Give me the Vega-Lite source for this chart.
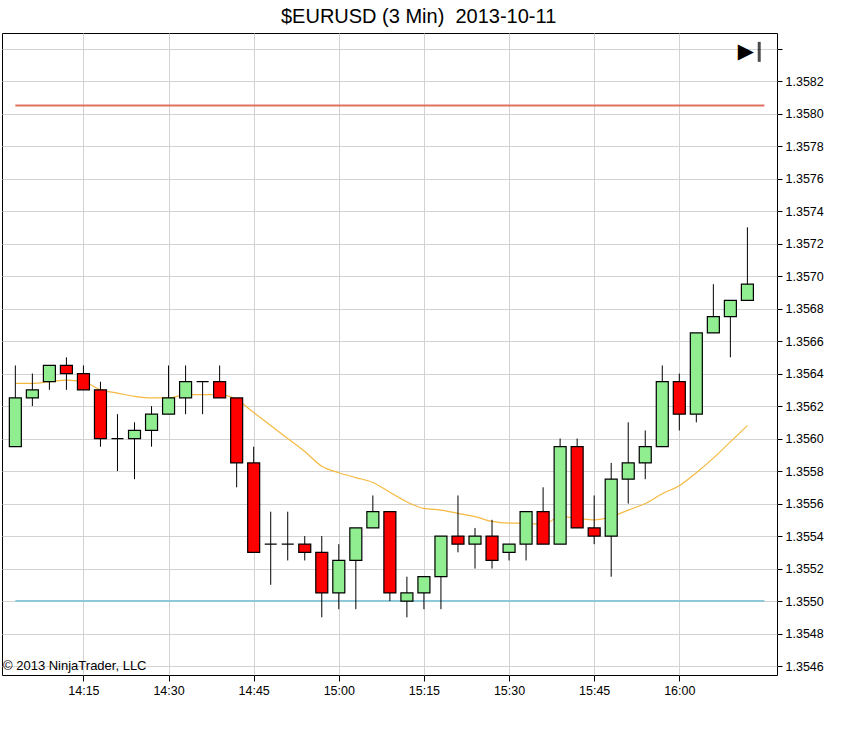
{
  "$schema": "https://vega.github.io/schema/vega-lite/v6.json",
  "width": 775,
  "height": 642,
  "padding": {"left": 2, "top": 7, "right": 4, "bottom": 4},
  "background": "white",
  "title": {
    "text": "$EURUSD (3 Min) \u00a02013-10-11",
    "fontSize": 20,
    "fontWeight": "normal",
    "font": "Liberation Sans",
    "color": "#000000",
    "frame": "bounds",
    "offset": 6,
    "dx": 6
  },
  "datasets": {
    "bars": [
      {"t": "2013-10-11T14:03:00", "open": 1.35595, "high": 1.35645, "low": 1.35595, "close": 1.35625, "ma": 1.35634},
      {"t": "2013-10-11T14:06:00", "open": 1.35625, "high": 1.3564, "low": 1.3562, "close": 1.3563, "ma": 1.35634},
      {"t": "2013-10-11T14:09:00", "open": 1.35635, "high": 1.35645, "low": 1.3563, "close": 1.35645, "ma": 1.35635},
      {"t": "2013-10-11T14:12:00", "open": 1.35645, "high": 1.3565, "low": 1.3563, "close": 1.3564, "ma": 1.35636},
      {"t": "2013-10-11T14:15:00", "open": 1.3564, "high": 1.35645, "low": 1.3563, "close": 1.3563, "ma": 1.35635},
      {"t": "2013-10-11T14:18:00", "open": 1.3563, "high": 1.35635, "low": 1.35595, "close": 1.356, "ma": 1.3563},
      {"t": "2013-10-11T14:21:00", "open": 1.356, "high": 1.35615, "low": 1.3558, "close": 1.356, "ma": 1.35628},
      {"t": "2013-10-11T14:24:00", "open": 1.356, "high": 1.3561, "low": 1.35575, "close": 1.35605, "ma": 1.35626},
      {"t": "2013-10-11T14:27:00", "open": 1.35605, "high": 1.3562, "low": 1.35595, "close": 1.35615, "ma": 1.35625},
      {"t": "2013-10-11T14:30:00", "open": 1.35615, "high": 1.35645, "low": 1.35615, "close": 1.35625, "ma": 1.35625},
      {"t": "2013-10-11T14:33:00", "open": 1.35625, "high": 1.35645, "low": 1.35615, "close": 1.35635, "ma": 1.35627},
      {"t": "2013-10-11T14:36:00", "open": 1.35635, "high": 1.35635, "low": 1.35615, "close": 1.35635, "ma": 1.35627},
      {"t": "2013-10-11T14:39:00", "open": 1.35635, "high": 1.35645, "low": 1.35625, "close": 1.35625, "ma": 1.35627},
      {"t": "2013-10-11T14:42:00", "open": 1.35625, "high": 1.35625, "low": 1.3557, "close": 1.35585, "ma": 1.35624},
      {"t": "2013-10-11T14:45:00", "open": 1.35585, "high": 1.35595, "low": 1.3553, "close": 1.3553, "ma": 1.35616},
      {"t": "2013-10-11T14:48:00", "open": 1.35535, "high": 1.35555, "low": 1.3551, "close": 1.35535, "ma": 1.35608},
      {"t": "2013-10-11T14:51:00", "open": 1.35535, "high": 1.35555, "low": 1.35525, "close": 1.35535, "ma": 1.356},
      {"t": "2013-10-11T14:54:00", "open": 1.35535, "high": 1.3554, "low": 1.35525, "close": 1.3553, "ma": 1.35592},
      {"t": "2013-10-11T14:57:00", "open": 1.3553, "high": 1.3554, "low": 1.3549, "close": 1.35505, "ma": 1.35583},
      {"t": "2013-10-11T15:00:00", "open": 1.35505, "high": 1.35535, "low": 1.35495, "close": 1.35525, "ma": 1.35579},
      {"t": "2013-10-11T15:03:00", "open": 1.35525, "high": 1.35545, "low": 1.35495, "close": 1.35545, "ma": 1.35576},
      {"t": "2013-10-11T15:06:00", "open": 1.35545, "high": 1.35565, "low": 1.35545, "close": 1.35555, "ma": 1.35573},
      {"t": "2013-10-11T15:09:00", "open": 1.35555, "high": 1.35555, "low": 1.355, "close": 1.35505, "ma": 1.35567},
      {"t": "2013-10-11T15:12:00", "open": 1.355, "high": 1.35515, "low": 1.3549, "close": 1.35505, "ma": 1.35561},
      {"t": "2013-10-11T15:15:00", "open": 1.35505, "high": 1.35515, "low": 1.35495, "close": 1.35515, "ma": 1.35557},
      {"t": "2013-10-11T15:18:00", "open": 1.35515, "high": 1.3554, "low": 1.35495, "close": 1.3554, "ma": 1.35556},
      {"t": "2013-10-11T15:21:00", "open": 1.3554, "high": 1.35565, "low": 1.3553, "close": 1.35535, "ma": 1.35554},
      {"t": "2013-10-11T15:24:00", "open": 1.35535, "high": 1.35545, "low": 1.3552, "close": 1.3554, "ma": 1.35552},
      {"t": "2013-10-11T15:27:00", "open": 1.3554, "high": 1.3555, "low": 1.3552, "close": 1.35525, "ma": 1.35549},
      {"t": "2013-10-11T15:30:00", "open": 1.3553, "high": 1.35535, "low": 1.35525, "close": 1.35535, "ma": 1.35548},
      {"t": "2013-10-11T15:33:00", "open": 1.35535, "high": 1.35555, "low": 1.35525, "close": 1.35555, "ma": 1.35548},
      {"t": "2013-10-11T15:36:00", "open": 1.35555, "high": 1.3557, "low": 1.35535, "close": 1.35535, "ma": 1.35547},
      {"t": "2013-10-11T15:39:00", "open": 1.35535, "high": 1.356, "low": 1.35535, "close": 1.35595, "ma": 1.35552},
      {"t": "2013-10-11T15:42:00", "open": 1.35595, "high": 1.356, "low": 1.35545, "close": 1.35545, "ma": 1.35551},
      {"t": "2013-10-11T15:45:00", "open": 1.35545, "high": 1.35565, "low": 1.35535, "close": 1.3554, "ma": 1.3555},
      {"t": "2013-10-11T15:48:00", "open": 1.3554, "high": 1.35585, "low": 1.35515, "close": 1.35575, "ma": 1.35552},
      {"t": "2013-10-11T15:51:00", "open": 1.35575, "high": 1.3561, "low": 1.3556, "close": 1.35585, "ma": 1.35556},
      {"t": "2013-10-11T15:54:00", "open": 1.35585, "high": 1.35605, "low": 1.35575, "close": 1.35595, "ma": 1.3556},
      {"t": "2013-10-11T15:57:00", "open": 1.35595, "high": 1.35645, "low": 1.35595, "close": 1.35635, "ma": 1.35566},
      {"t": "2013-10-11T16:00:00", "open": 1.35635, "high": 1.3564, "low": 1.35605, "close": 1.35615, "ma": 1.35571},
      {"t": "2013-10-11T16:03:00", "open": 1.35615, "high": 1.35665, "low": 1.3561, "close": 1.35665, "ma": 1.35579},
      {"t": "2013-10-11T16:06:00", "open": 1.35665, "high": 1.35695, "low": 1.35665, "close": 1.35675, "ma": 1.35588},
      {"t": "2013-10-11T16:09:00", "open": 1.35675, "high": 1.35685, "low": 1.3565, "close": 1.35685, "ma": 1.35598},
      {"t": "2013-10-11T16:12:00", "open": 1.35685, "high": 1.3573, "low": 1.35685, "close": 1.35695, "ma": 1.35608}
    ],
    "levels": [
      {"name": "upper", "level": 1.35805, "start": "2013-10-11T14:03:00", "end": "2013-10-11T16:15:00"},
      {"name": "lower", "level": 1.355, "start": "2013-10-11T14:03:00", "end": "2013-10-11T16:15:00"}
    ],
    "notes": [
      {"label": "© 2013 NinjaTrader, LLC"}
    ],
    "icons": [
      {"label": "▶"}
    ]
  },
  "layer": [
    {
      "data": {"name": "levels"},
      "mark": {"type": "rule", "strokeWidth": 2},
      "encoding": {
        "x": {
          "field": "start",
          "type": "temporal",
          "title": null,
          "scale": {
            "domain": [
              {"year": 2013, "month": 10, "date": 11, "hours": 14, "minutes": 0, "seconds": 39},
              {"year": 2013, "month": 10, "date": 11, "hours": 16, "minutes": 17, "seconds": 13}
            ],
            "nice": false,
            "padding": 0
          },
          "axis": {
            "format": "%H:%M",
            "tickCount": 20,
            "values": [
              {"year": 2013, "month": 10, "date": 11, "hours": 14, "minutes": 15},
              {"year": 2013, "month": 10, "date": 11, "hours": 14, "minutes": 30},
              {"year": 2013, "month": 10, "date": 11, "hours": 14, "minutes": 45},
              {"year": 2013, "month": 10, "date": 11, "hours": 15, "minutes": 0},
              {"year": 2013, "month": 10, "date": 11, "hours": 15, "minutes": 15},
              {"year": 2013, "month": 10, "date": 11, "hours": 15, "minutes": 30},
              {"year": 2013, "month": 10, "date": 11, "hours": 15, "minutes": 45},
              {"year": 2013, "month": 10, "date": 11, "hours": 16, "minutes": 0}
            ],
            "labelPadding": 3,
            "tickSize": 6
          }
        },
        "x2": {"field": "end"},
        "y": {
          "field": "level",
          "type": "quantitative",
          "title": null,
          "scale": {"domain": [1.354545, 1.358496], "zero": false, "nice": false},
          "axis": {
            "orient": "right",
            "format": ".4f",
            "tickCount": 30,
            "values": [1.3546, 1.3548, 1.355, 1.3552, 1.3554, 1.3556, 1.3558, 1.356, 1.3562, 1.3564, 1.3566, 1.3568, 1.357, 1.3572, 1.3574, 1.3576, 1.3578, 1.358, 1.3582, 1.3584],
            "labelExpr": "datum.value > 1.3583 ? '' : datum.label",
            "labelOverlap": false,
            "tickSize": 5,
            "labelPadding": 3
          }
        },
        "color": {
          "field": "name",
          "type": "nominal",
          "legend": null,
          "scale": {"domain": ["upper", "lower"], "range": ["#E2705E", "#8FC9D9"]}
        }
      }
    },
    {
      "data": {"name": "bars"},
      "mark": {"type": "line", "color": "#F5B942", "strokeWidth": 1.2, "interpolate": "monotone"},
      "encoding": {
        "x": {"field": "t", "type": "temporal"},
        "y": {"field": "ma", "type": "quantitative"}
      }
    },
    {
      "data": {"name": "bars"},
      "mark": {"type": "rule", "color": "#000000", "strokeWidth": 1},
      "encoding": {
        "x": {"field": "t", "type": "temporal"},
        "y": {"field": "low", "type": "quantitative"},
        "y2": {"field": "high"}
      }
    },
    {
      "data": {"name": "bars"},
      "mark": {"type": "bar", "size": 12, "stroke": "#000000", "strokeWidth": 1.2},
      "encoding": {
        "x": {"field": "t", "type": "temporal"},
        "y": {"field": "open", "type": "quantitative"},
        "y2": {"field": "close"},
        "color": {
          "condition": {"test": "datum.close > datum.open", "value": "#90EE90"},
          "value": "#FF0000"
        }
      }
    },
    {
      "data": {"name": "notes"},
      "mark": {"type": "text", "align": "left", "baseline": "bottom", "font": "Liberation Sans", "fontSize": 13, "color": "#000000", "dx": 1, "dy": -2},
      "encoding": {
        "x": {"datum": {"year": 2013, "month": 10, "date": 11, "hours": 14, "minutes": 0, "seconds": 39}, "type": "temporal"},
        "y": {"datum": 1.354545, "type": "quantitative"},
        "text": {"field": "label", "type": "nominal"}
      }
    },
    {
      "data": {"name": "icons"},
      "mark": {"type": "text", "align": "right", "baseline": "middle", "font": "DejaVu Sans", "fontSize": 21, "color": "#000000"},
      "encoding": {
        "x": {"datum": {"year": 2013, "month": 10, "date": 11, "hours": 16, "minutes": 13, "seconds": 10}, "type": "temporal"},
        "y": {"datum": 1.35838, "type": "quantitative"},
        "text": {"field": "label", "type": "nominal"}
      }
    },
    {
      "data": {"name": "icons"},
      "mark": {"type": "tick", "orient": "vertical", "color": "#000000", "thickness": 3, "size": 20},
      "encoding": {
        "x": {"datum": {"year": 2013, "month": 10, "date": 11, "hours": 16, "minutes": 14, "seconds": 5}, "type": "temporal"},
        "y": {"datum": 1.35838, "type": "quantitative"}
      }
    }
  ],
  "config": {
    "view": {"stroke": "#000000", "strokeWidth": 1},
    "font": "Liberation Sans",
    "axis": {
      "grid": true,
      "gridColor": "#D3D3D3",
      "gridWidth": 1,
      "domain": false,
      "tickColor": "#000000",
      "labelColor": "#000000",
      "labelFont": "Liberation Sans",
      "labelFontSize": 12.5,
      "labelOverlap": false
    }
  }
}
